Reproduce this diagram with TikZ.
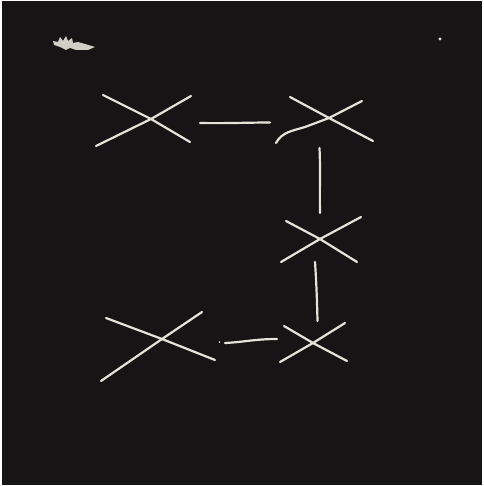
\documentclass[tikz,border=0pt]{standalone}
\definecolor{bg}{RGB}{22,20,20}
\definecolor{chalk}{RGB}{228,228,218}
\tikzset{
  stroke/.style={draw=chalk, line width=2.2pt, line cap=round, line join=round},
  link/.style={draw=chalk, line width=2.2pt, line cap=round}
}
\begin{document}
\begin{tikzpicture}[x=1pt,y=-1pt]
\useasboundingbox (0,0) rectangle (483,486);
\fill[white] (0,0) rectangle (483,486);
\fill[bg] (1.5,1.5) rectangle (481.5,484.5);
% smudge and dot
\fill[chalk,opacity=0.9] (53,41) -- (58,42) -- (60,37) -- (63,41) -- (66,36) -- (68,41) -- (72,38) -- (73,43) -- (78,42) -- (85,44) -- (95,47) -- (88,50) -- (76,50) -- (70,48) -- (66,50) -- (60,47) -- (54,45) -- cycle;
\fill[chalk] (440,39) circle (1.6);
% X marks
\coordinate (x1) at (151,119);
\draw[stroke] (103,95) -- (x1) -- (190,142);
\draw[stroke] (96,146) -- (x1) -- (191,96);
\coordinate (x2) at (329,118);
\draw[stroke] (290,97) -- (x2) -- (373,141);
\draw[stroke] (276,143) .. controls (282,132) and (292,131) .. (305,127) -- (x2) -- (362,101);
\coordinate (x3) at (320,239);
\draw[stroke] (286,221) -- (x3) -- (357,262);
\draw[stroke] (281,262) -- (x3) -- (361,217);
\coordinate (x4) at (313,343);
\draw[stroke] (284,326) -- (x4) -- (347,361);
\draw[stroke] (280,362) -- (x4) -- (345,323);
\coordinate (x5) at (162,339);
\draw[stroke] (106,318) -- (x5) -- (215,360);
\draw[stroke] (101,381) -- (x5) -- (202,312);
% connector ends
\coordinate (a1) at (200,123);
\coordinate (a2) at (270,122.5);
\coordinate (b1) at (319.5,148);
\coordinate (b2) at (320,213);
\coordinate (c1) at (315,262);
\coordinate (c2) at (317.5,321);
\coordinate (d1) at (225,343);
\coordinate (d2) at (277,339);
\draw[link] (a1) .. controls (225,123.5) and (250,122.5) .. (a2);
\draw[link] (b1) .. controls (320.5,170) and (319.5,190) .. (b2);
\draw[link] (c1) .. controls (316.5,285) and (317,300) .. (c2);
\draw[link] (d1) .. controls (245,342) and (255,339) .. (d2);
\fill[chalk] (219.5,342) circle (0.9);
\end{tikzpicture}
\end{document}
